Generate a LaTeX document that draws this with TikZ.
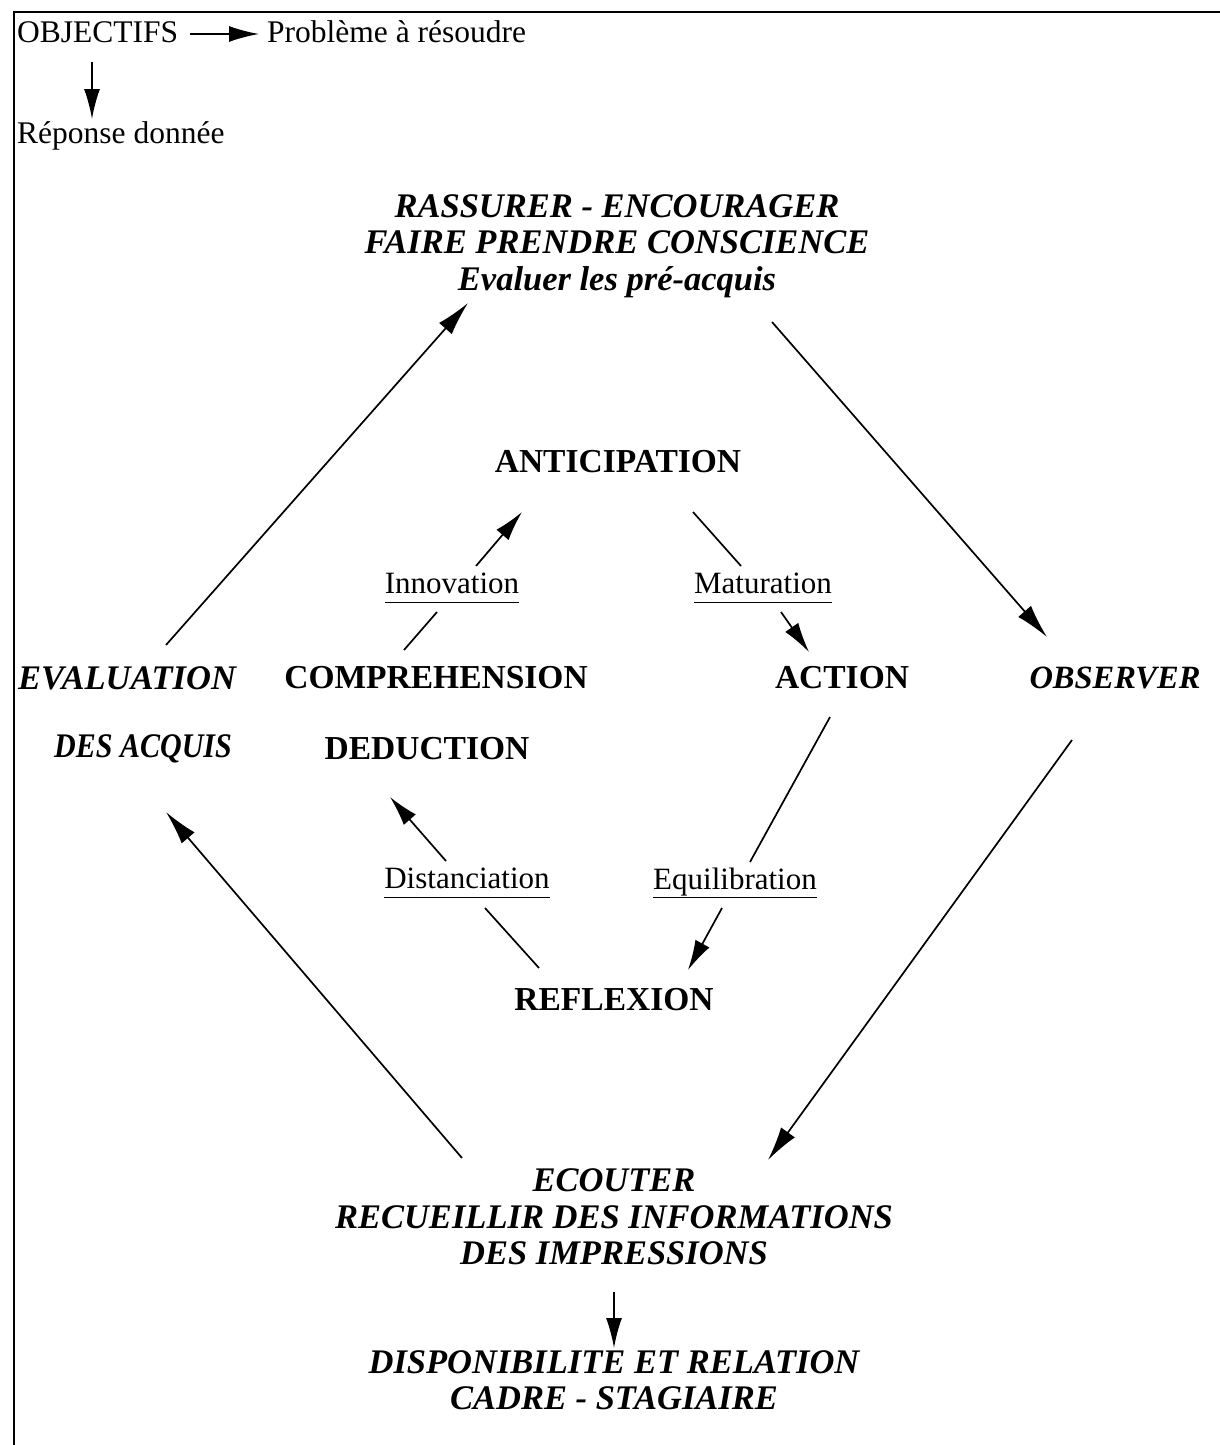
\documentclass[tikz,border=0pt]{standalone}
\usepackage{fontspec}
\setmainfont{Liberation Serif}
\usetikzlibrary{arrows.meta}
\newcommand{\ulbl}[1]{\underline{\vphantom{Iq}#1}}
\tikzset{
  txt/.style={inner sep=0pt, anchor=center, font=\fontsize{31.5}{36}\selectfont},
  lbl/.style={inner sep=0pt, anchor=center, font=\fontsize{31}{36}\selectfont},
  bld/.style={inner sep=0pt, anchor=center, font=\fontsize{33.5}{38}\selectfont\bfseries},
  bit/.style={inner sep=0pt, anchor=center, align=center, font=\fontsize{34.5}{36.5}\selectfont\bfseries\itshape},
  conn/.style={line width=1.7pt, -{Latex[length=34pt,width=17pt]}},
  seg/.style={line width=1.7pt},
  small/.style={line width=1.7pt, -{Latex[length=30pt,width=16pt]}}
}
\begin{document}
\begin{tikzpicture}[x=1pt,y=-1pt]
\useasboundingbox (0,0) rectangle (1220,1445);
% frame
\draw[line width=2pt] (14,1445) -- (14,12) -- (1220,12);
% legend
\node[txt, anchor=west] (obj) at (17,32) {OBJECTIFS};
\node[txt, anchor=west] (prob) at (267,32) {Problème à résoudre};
\node[txt, anchor=west] (rep) at (17,136) {Réponse donnée};
\coordinate (oa1) at (190,34);
\coordinate (oa2) at (259,34);
\coordinate (ob1) at (92,62);
\coordinate (ob2) at (92,119);
\draw[small] (oa1) -- (oa2);
\draw[small] (ob1) -- (ob2);
% top
\node[bit] (top) at (617,246) {RASSURER - ENCOURAGER\\FAIRE PRENDRE CONSCIENCE\\Evaluer les pré-acquis};
% inner
\node[bld] (antic) at (618,462) {ANTICIPATION};
\node[lbl] (innov) at (452,588) {\ulbl{Innovation}};
\node[lbl] (matur) at (763,588) {\ulbl{Maturation}};
\node[bld] (compr) at (436,678) {COMPREHENSION};
\node[bld] (action) at (842,678) {ACTION};
\node[bld] (deduc) at (427,749) {DEDUCTION};
\node[lbl] (dist) at (467,883) {\ulbl{Distanciation}};
\node[lbl] (equi) at (735,883) {\ulbl{Equilibration}};
\node[bld] (refl) at (614,1000) {REFLEXION};
% outer
\node[bit] (evalu) at (127,678) {EVALUATION};
\node[bit] (acquis) at (143,749) {\scalebox{0.87}[1]{DES ACQUIS}};
\node[bit, font=\fontsize{32.5}{36}\selectfont\bfseries\itshape] (obs) at (1115,678) {OBSERVER};
\node[bit] (ecout) at (614,1217) {ECOUTER\\RECUEILLIR DES INFORMATIONS\\DES IMPRESSIONS};
\node[bit] (dispo) at (614,1380) {DISPONIBILITE ET RELATION\\CADRE - STAGIAIRE};
% outer connectors
\coordinate (L1) at (166,645); \coordinate (L2) at (468,303);
\coordinate (R1) at (772,322); \coordinate (R2) at (1047,637);
\coordinate (B1) at (1072,740); \coordinate (B2) at (768,1160);
\coordinate (C1) at (462,1158); \coordinate (C2) at (166,812);
\draw[conn] (L1) -- (L2);
\draw[conn] (R1) -- (R2);
\draw[conn] (B1) -- (B2);
\draw[conn] (C1) -- (C2);
% inner connectors
\coordinate (i1) at (404,650); \coordinate (i2) at (437,612);
\coordinate (i3) at (476,566); \coordinate (i4) at (522,512);
\draw[seg] (i1) -- (i2);
\draw[small] (i3) -- (i4);
\coordinate (m1) at (693,512); \coordinate (m2) at (741,566);
\coordinate (m3) at (781,612); \coordinate (m4) at (809,652);
\draw[seg] (m1) -- (m2);
\draw[small] (m3) -- (m4);
\coordinate (e1) at (830,717); \coordinate (e2) at (750,862);
\coordinate (e3) at (722,908); \coordinate (e4) at (688,970);
\draw[seg] (e1) -- (e2);
\draw[small] (e3) -- (e4);
\coordinate (d1) at (539,968); \coordinate (d2) at (485,908);
\coordinate (d3) at (446,861); \coordinate (d4) at (390,797);
\draw[seg] (d1) -- (d2);
\draw[small] (d3) -- (d4);
% bottom arrow
\coordinate (v1) at (614,1292); \coordinate (v2) at (614,1348);
\draw[small] (v1) -- (v2);
\end{tikzpicture}
\end{document}
